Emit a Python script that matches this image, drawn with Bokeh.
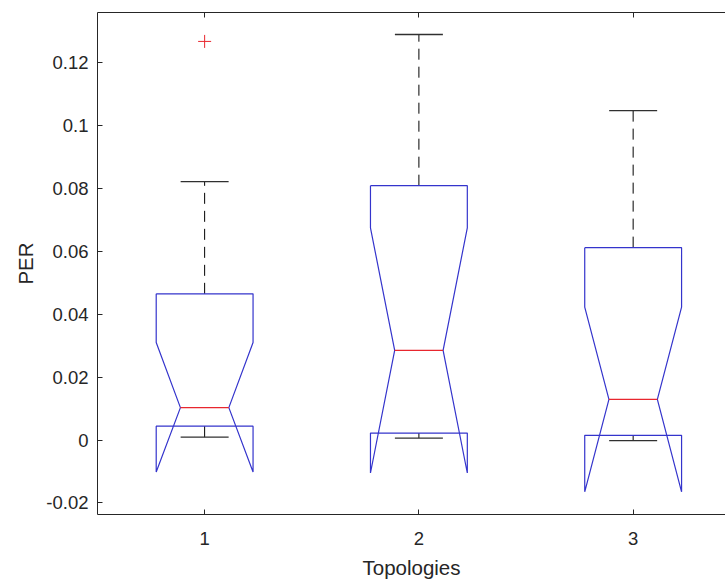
from bokeh.plotting import figure
from bokeh.models import FixedTicker, LinearAxis, Range1d
from bokeh.embed import file_html
from bokeh.resources import INLINE

# ---- data ----
categories = [1, 2, 3]
x_tick_labels = ["1", "2", "3"]
q1 = [0.0044, 0.0022, 0.0015]
medians = [0.0103, 0.0285, 0.0129]
q3 = [0.0465, 0.0809, 0.0612]
notch_lo = [-0.0102, -0.0105, -0.0165]
notch_hi = [0.0310, 0.0675, 0.0423]
whisker_lo = [0.0009, 0.0006, -0.0002]
whisker_hi = [0.0822, 0.1290, 0.1048]
outlier_x = [1]
outlier_y = [0.1268]
y_ticks = [-0.02, 0, 0.02, 0.04, 0.06, 0.08, 0.1, 0.12]
y_tick_labels = ["-0.02", "0", "0.02", "0.04", "0.06", "0.08", "0.1", "0.12"]

# ---- style ----
FONT = "Liberation Sans"
AX = "#262626"
BOX = "#3434cc"
MED = "#e8262e"
half_w = 0.226
notch_w = half_w / 2
cap_w = 0.112

box_xs, box_ys = [], []
for c, a, m, b, nl, nh in zip(categories, q1, medians, q3, notch_lo, notch_hi):
    box_xs.append([c - half_w, c - half_w, c - notch_w, c - half_w, c - half_w,
                   c + half_w, c + half_w, c + notch_w, c + half_w, c + half_w, c - half_w])
    box_ys.append([b, nh, m, nl, a, a, nl, m, nh, b, b])

p = figure(width=725, height=581,
           x_range=Range1d(0.5, 3.431), y_range=Range1d(-0.0237, 0.136),
           output_backend="svg", toolbar_location=None,
           min_border_left=97, min_border_top=12, min_border_right=0, min_border_bottom=64)
p.outline_line_color = None
p.outline_line_alpha = 0
p.border_fill_color = "white"
p.grid.visible = False
p.background_fill_color = "white"

# whiskers
p.segment(x0=categories, y0=q3, x1=categories, y1=whisker_hi,
          line_color="black", line_width=1, line_dash="11 7")
p.segment(x0=categories, y0=q1, x1=categories, y1=whisker_lo,
          line_color="black", line_width=1, line_dash="11 7")
# caps
p.segment(x0=[c - cap_w for c in categories], y0=whisker_hi,
          x1=[c + cap_w for c in categories], y1=whisker_hi,
          line_color="#303030", line_width=1.3)
p.segment(x0=[c - cap_w for c in categories], y0=whisker_lo,
          x1=[c + cap_w for c in categories], y1=whisker_lo,
          line_color="#303030", line_width=1.3)
# notched boxes
p.multi_line(xs=box_xs, ys=box_ys, line_color=BOX, line_width=1.2)
# medians
p.segment(x0=[c - notch_w for c in categories], y0=medians,
          x1=[c + notch_w for c in categories], y1=medians,
          line_color=MED, line_width=1.2)
# outliers
p.scatter(x=outlier_x, y=outlier_y, marker="cross", size=13,
          line_color=MED, line_width=1)

# axes
xa = p.xaxis[0]
xa.ticker = FixedTicker(ticks=categories)
xa.major_label_overrides = {c: l for c, l in zip(categories, x_tick_labels)}
xa.axis_label = "Topologies"
ya = p.yaxis[0]
ya.ticker = FixedTicker(ticks=y_ticks)
ya.major_label_overrides = {t: l for t, l in zip(y_ticks, y_tick_labels)}
ya.axis_label = "PER"

for ax in (xa, ya):
    ax.major_tick_in = 5
    ax.major_tick_out = 0
    ax.minor_tick_line_color = None
    ax.axis_line_color = AX
    ax.major_tick_line_color = AX
    ax.major_label_text_color = AX
    ax.major_label_text_font = FONT
    ax.major_label_text_font_size = "18.5px"
    ax.axis_label_text_font = FONT
    ax.axis_label_text_font_size = "20.5px"
    ax.axis_label_text_font_style = "normal"
    ax.axis_label_text_color = AX
xa.major_label_standoff = 17
xa.axis_label_standoff = 8
ya.major_label_standoff = 9
ya.axis_label_standoff = 6

top = LinearAxis(ticker=FixedTicker(ticks=categories),
                 major_label_text_font_size="0px", major_label_standoff=0,
                 major_tick_in=5, major_tick_out=0, minor_tick_line_color=None,
                 axis_line_color=AX, major_tick_line_color=AX)
top.major_label_overrides = {c: "" for c in categories}
p.add_layout(top, "above")

open("out.html", "w").write(file_html(p, INLINE))
